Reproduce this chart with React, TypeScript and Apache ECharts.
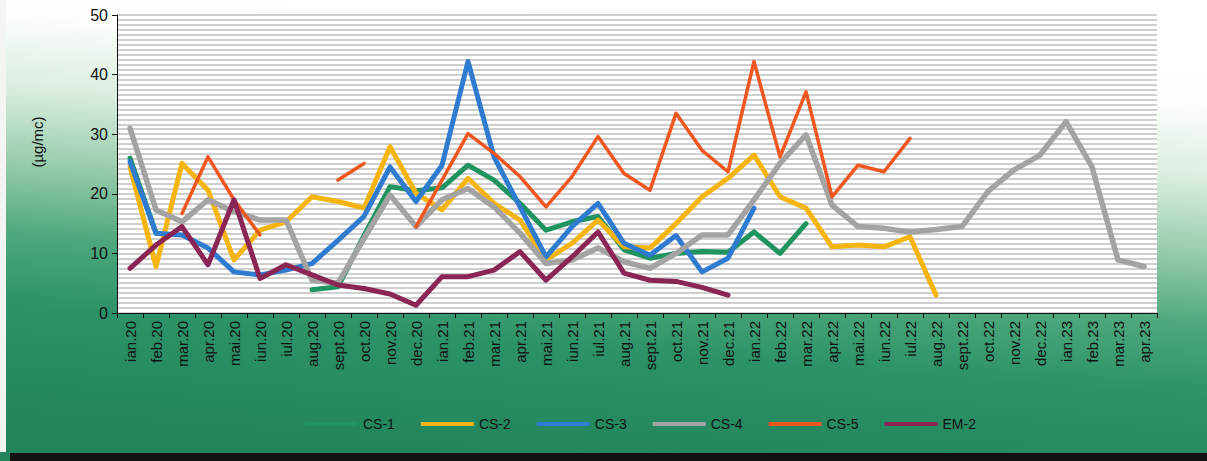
import React, { useEffect, useRef } from "react";
import * as echarts from "echarts";

const categories = [
  "ian.20", "feb.20", "mar.20", "apr.20", "mai.20", "iun.20", "iul.20", "aug.20", "sept.20", "oct.20",
  "nov.20", "dec.20", "ian.21", "feb.21", "mar.21", "apr.21", "mai.21", "iun.21", "iul.21", "aug.21",
  "sept.21", "oct.21", "nov.21", "dec.21", "ian.22", "feb.22", "mar.22", "apr.22", "mai.22", "iun.22",
  "iul.22", "aug.22", "sept.22", "oct.22", "nov.22", "dec.22", "ian.23", "feb.23", "mar.23", "apr.23",
];

const cs1 = [
  26, 13.4, null, null, null, null, null, 3.9, 4.4, 13,
  21.2, 20.5, 21, 24.8, 22.3, 18.4, 13.9, 15.3, 16.2, 10.6,
  9.2, 10, 10.3, 10.2, 13.6, 10, 15, null, null, null,
  null, null, null, null, null, null, null, null, null, null,
];
const cs2 = [
  24.5, 7.8, 25.1, 20.6, 8.9, 13.9, 15.3, 19.5, 18.7, 17.6,
  27.9, 20.1, 17.3, 22.6, 18.4, 15.6, 8.9, 11.7, 15.6, 11.1,
  10.9, 15, 19.5, 22.6, 26.5, 19.5, 17.6, 11.1, 11.4, 11.1,
  12.8, 3.0, null, null, null, null, null, null, null, null,
];
const cs3 = [
  25.4, 13.4, 13.1, 10.9, 6.9, 6.4, 7.2, 8.3, 12.2, 16.2,
  24.5, 18.7, 24.8, 42.2, 26.2, 17.8, 9.4, 14.5, 18.4, 11.7,
  9.7, 13, 6.9, 9.2, 17.6, null, null, null, null, null,
  null, null, null, null, null, null, null, null, null, null,
];
const cs4 = [
  31, 17.3, 15.3, 19, 17, 15.6, 15.6, 5.5, 5, 12.5,
  19.8, 14.5, 19, 20.9, 17.8, 13.4, 8.3, 8.9, 10.9, 8.6,
  7.5, 10, 13.1, 13.1, 19, 25.1, 29.9, 18.1, 14.5, 14.2,
  13.6, 14, 14.5, 20.4, 24, 26.5, 32.1, 24.5, 8.9, 7.8,
];
const cs5 = [
  null, null, 16.7, 26.2, 19, 13.1, null, null, 22.3, 25.1,
  null, 14.5, 22.3, 30.1, 26.8, 22.9, 17.8, 22.9, 29.6, 23.4,
  20.6, 33.5, 27.3, 23.7, 42.2, 26.2, 37.1, 19.5, 24.8, 23.7,
  29.3, null, null, null, null, null, null, null, null, null,
];
const em2 = [
  7.5, 11.4, 14.5, 8.1, 19, 5.8, 8.1, 6.4, 4.7, 4.1,
  3.2, 1.3, 6.1, 6.1, 7.2, 10.3, 5.5, 9.4, 13.6, 6.7,
  5.5, 5.3, 4.3, 3.0, null, null, null, null, null, null,
  null, null, null, null, null, null, null, null, null, null,
];

const seriesNames = ["CS-1", "CS-2", "CS-3", "CS-4", "CS-5", "EM-2"];
const seriesData = [cs1, cs2, cs3, cs4, cs5, em2];
const seriesColors = ["#1f9360", "#f6b40e", "#2f7bd0", "#a3a3a3", "#f0561f", "#8a2554"];
const seriesWidths = [5, 5, 5, 5.5, 3.5, 5];

const yTicks = { min: 0, max: 50, interval: 10 };
const FONT = "Liberation Sans, Arial, sans-serif";

export default function App() {
  const ref = useRef<HTMLDivElement>(null);

  useEffect(() => {
    document.body.style.margin = "0";
    if (!ref.current) return;
    const chart = echarts.init(ref.current, null, { renderer: "svg" });
    chart.setOption({
      animation: false,
      backgroundColor: new echarts.graphic.LinearGradient(0.6, 0, 0.4, 1, [
        { offset: 0, color: "#ffffff" },
        { offset: 0.14, color: "#fdfefb" },
        { offset: 0.3, color: "#d9eddf" },
        { offset: 0.46, color: "#94caa9" },
        { offset: 0.6, color: "#4ea87d" },
        { offset: 0.75, color: "#2c9268" },
        { offset: 1, color: "#22845a" },
      ]),
      textStyle: { fontFamily: FONT },
      grid: {
        left: 117,
        right: 50,
        top: 15,
        bottom: 148,
        show: true,
        backgroundColor: "#ffffff",
        borderWidth: 0,
      },
      legend: {
        data: seriesNames,
        left: 300,
        top: 412,
        icon: "rect",
        itemWidth: 53,
        itemHeight: 4,
        itemGap: 26,
        textStyle: { color: "#111", fontSize: 14, fontFamily: FONT },
      },
      xAxis: {
        type: "category",
        data: categories,
        boundaryGap: true,
        axisLine: { show: true, lineStyle: { color: "#111", width: 1 } },
        axisTick: { show: true, length: 5, lineStyle: { color: "#111" } },
        axisLabel: {
          rotate: 90,
          interval: 0,
          fontSize: 15,
          color: "#111",
          fontFamily: FONT,
          margin: 8,
        },
        splitLine: { show: false },
      },
      yAxis: {
        type: "value",
        min: yTicks.min,
        max: yTicks.max,
        interval: yTicks.interval,
        name: "(µg/mc)",
        nameLocation: "middle",
        nameGap: 72,
        nameTextStyle: { color: "#111", fontSize: 15, fontFamily: FONT, padding: [0, 0, 0, 44] },
        axisLine: { show: true, lineStyle: { color: "#111", width: 1 } },
        axisTick: { show: true, length: 5, lineStyle: { color: "#111" } },
        axisLabel: { fontSize: 16, color: "#111", fontFamily: FONT, margin: 9 },
        splitLine: { show: true, lineStyle: { color: "#cfcfcf", width: 2.2 } },
        minorTick: { show: false, splitNumber: 12 },
        minorSplitLine: { show: true, lineStyle: { color: "#cfcfcf", width: 2.2 } },
      },
      graphic: [
        { type: "rect", shape: { x: 0, y: 0, width: 6, height: 452 }, style: { fill: "#f4f4f0" }, z: 100 },
        { type: "rect", shape: { x: 10, y: 453, width: 1197, height: 8 }, style: { fill: "#111111" }, z: 100 },
      ],
      series: seriesNames.map((name, i) => ({
        name,
        type: "line",
        data: seriesData[i],
        connectNulls: false,
        showSymbol: false,
        symbol: "none",
        color: seriesColors[i],
        lineStyle: { color: seriesColors[i], width: seriesWidths[i], cap: "round", join: "round" },
        emphasis: { disabled: true },
      })),
    });
    return () => chart.dispose();
  }, []);

  return <div ref={ref} style={{ width: 1207, height: 461 }} />;
}
